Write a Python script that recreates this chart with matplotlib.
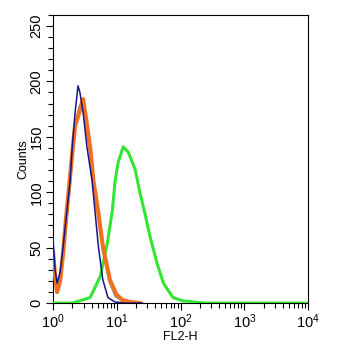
import matplotlib.pyplot as plt
from matplotlib.ticker import MultipleLocator, LogLocator, NullFormatter
import numpy as np

plt.rcParams['font.family'] = ['Liberation Sans', 'DejaVu Sans']

# log10 of FL2-H channel, counts
blue_log = [0, 0.03, 0.063, 0.11, 0.157, 0.22, 0.267, 0.30, 0.345, 0.39, 0.42,
            0.47, 0.53, 0.61, 0.66, 0.71, 0.78, 0.86, 0.97, 1.13, 1.4]
blue_cnt = [57, 30, 18, 28, 51, 85, 111, 141, 172, 196, 190,
            172, 141, 111, 81, 51, 21, 5, 1, 0, 0]

orange_log = [0, 0.03, 0.063, 0.11, 0.157, 0.2, 0.25, 0.3, 0.345, 0.41, 0.47,
              0.52, 0.58, 0.63, 0.71, 0.78, 0.89, 0.99, 1.08, 1.2, 1.36]
orange_cnt = [45, 25, 10, 20, 45, 75, 105, 135, 160, 172, 184,
              165, 141, 111, 81, 51, 21, 8, 3, 1, 0]

# light blue trace mostly hidden under the orange one
lblue_log = [0, 0.03, 0.063, 0.11, 0.16, 0.22, 0.27, 0.31, 0.36, 0.42, 0.46,
             0.52, 0.58, 0.64, 0.71, 0.79, 0.88, 0.98, 1.1, 1.3]
lblue_cnt = [40, 22, 12, 22, 47, 80, 110, 140, 165, 178, 180,
             160, 135, 108, 80, 48, 20, 6, 2, 0]

green_log = [0, 0.3, 0.47, 0.58, 0.74, 0.85, 0.93, 0.97, 1.02, 1.10, 1.18,
             1.29, 1.36, 1.44, 1.52, 1.63, 1.73, 1.88, 2.04, 2.2, 2.4, 4.0]
green_cnt = [0, 0, 3, 5, 24, 54, 84, 109, 127, 141, 136,
             120, 100, 81, 60, 36, 18, 5, 2, 1, 0, 0]

fig = plt.figure(figsize=(3.45, 3.46), dpi=100)
ax = fig.add_axes([0.154, 0.124, 0.739, 0.833])

ax.plot(np.power(10.0, lblue_log), lblue_cnt, color='#4a90c8', lw=1.6, zorder=2)
ax.plot(np.power(10.0, green_log), green_cnt, color='#33e633', lw=2.2, zorder=3)
ax.plot(np.power(10.0, orange_log), orange_cnt, color='#f07020', lw=3.0, zorder=4)
ax.plot(np.power(10.0, blue_log), blue_cnt, color='#15158a', lw=1.1, zorder=5)

ax.set_xscale('log')
ax.set_xlim(1, 1e4)
ax.set_ylim(0, 260)
ax.yaxis.set_major_locator(MultipleLocator(50))
ax.yaxis.set_minor_locator(MultipleLocator(10))
ax.xaxis.set_major_locator(LogLocator(base=10, numticks=10))
ax.xaxis.set_minor_locator(LogLocator(base=10, subs=np.arange(2, 10), numticks=20))
ax.xaxis.set_minor_formatter(NullFormatter())

ax.tick_params(axis='both', which='major', length=5, width=0.8, labelsize=10.5, pad=2)
ax.tick_params(axis='both', which='minor', length=3.5, width=0.8)
for lab in ax.get_yticklabels():
    lab.set_rotation(90)
    lab.set_va('center')

ax.set_xlabel('FL2-H', fontsize=9, labelpad=0)
ax.set_ylabel('Counts', fontsize=9)
ax.yaxis.set_label_coords(-0.095, 0.5)

fig.savefig('out.png', dpi=100)
